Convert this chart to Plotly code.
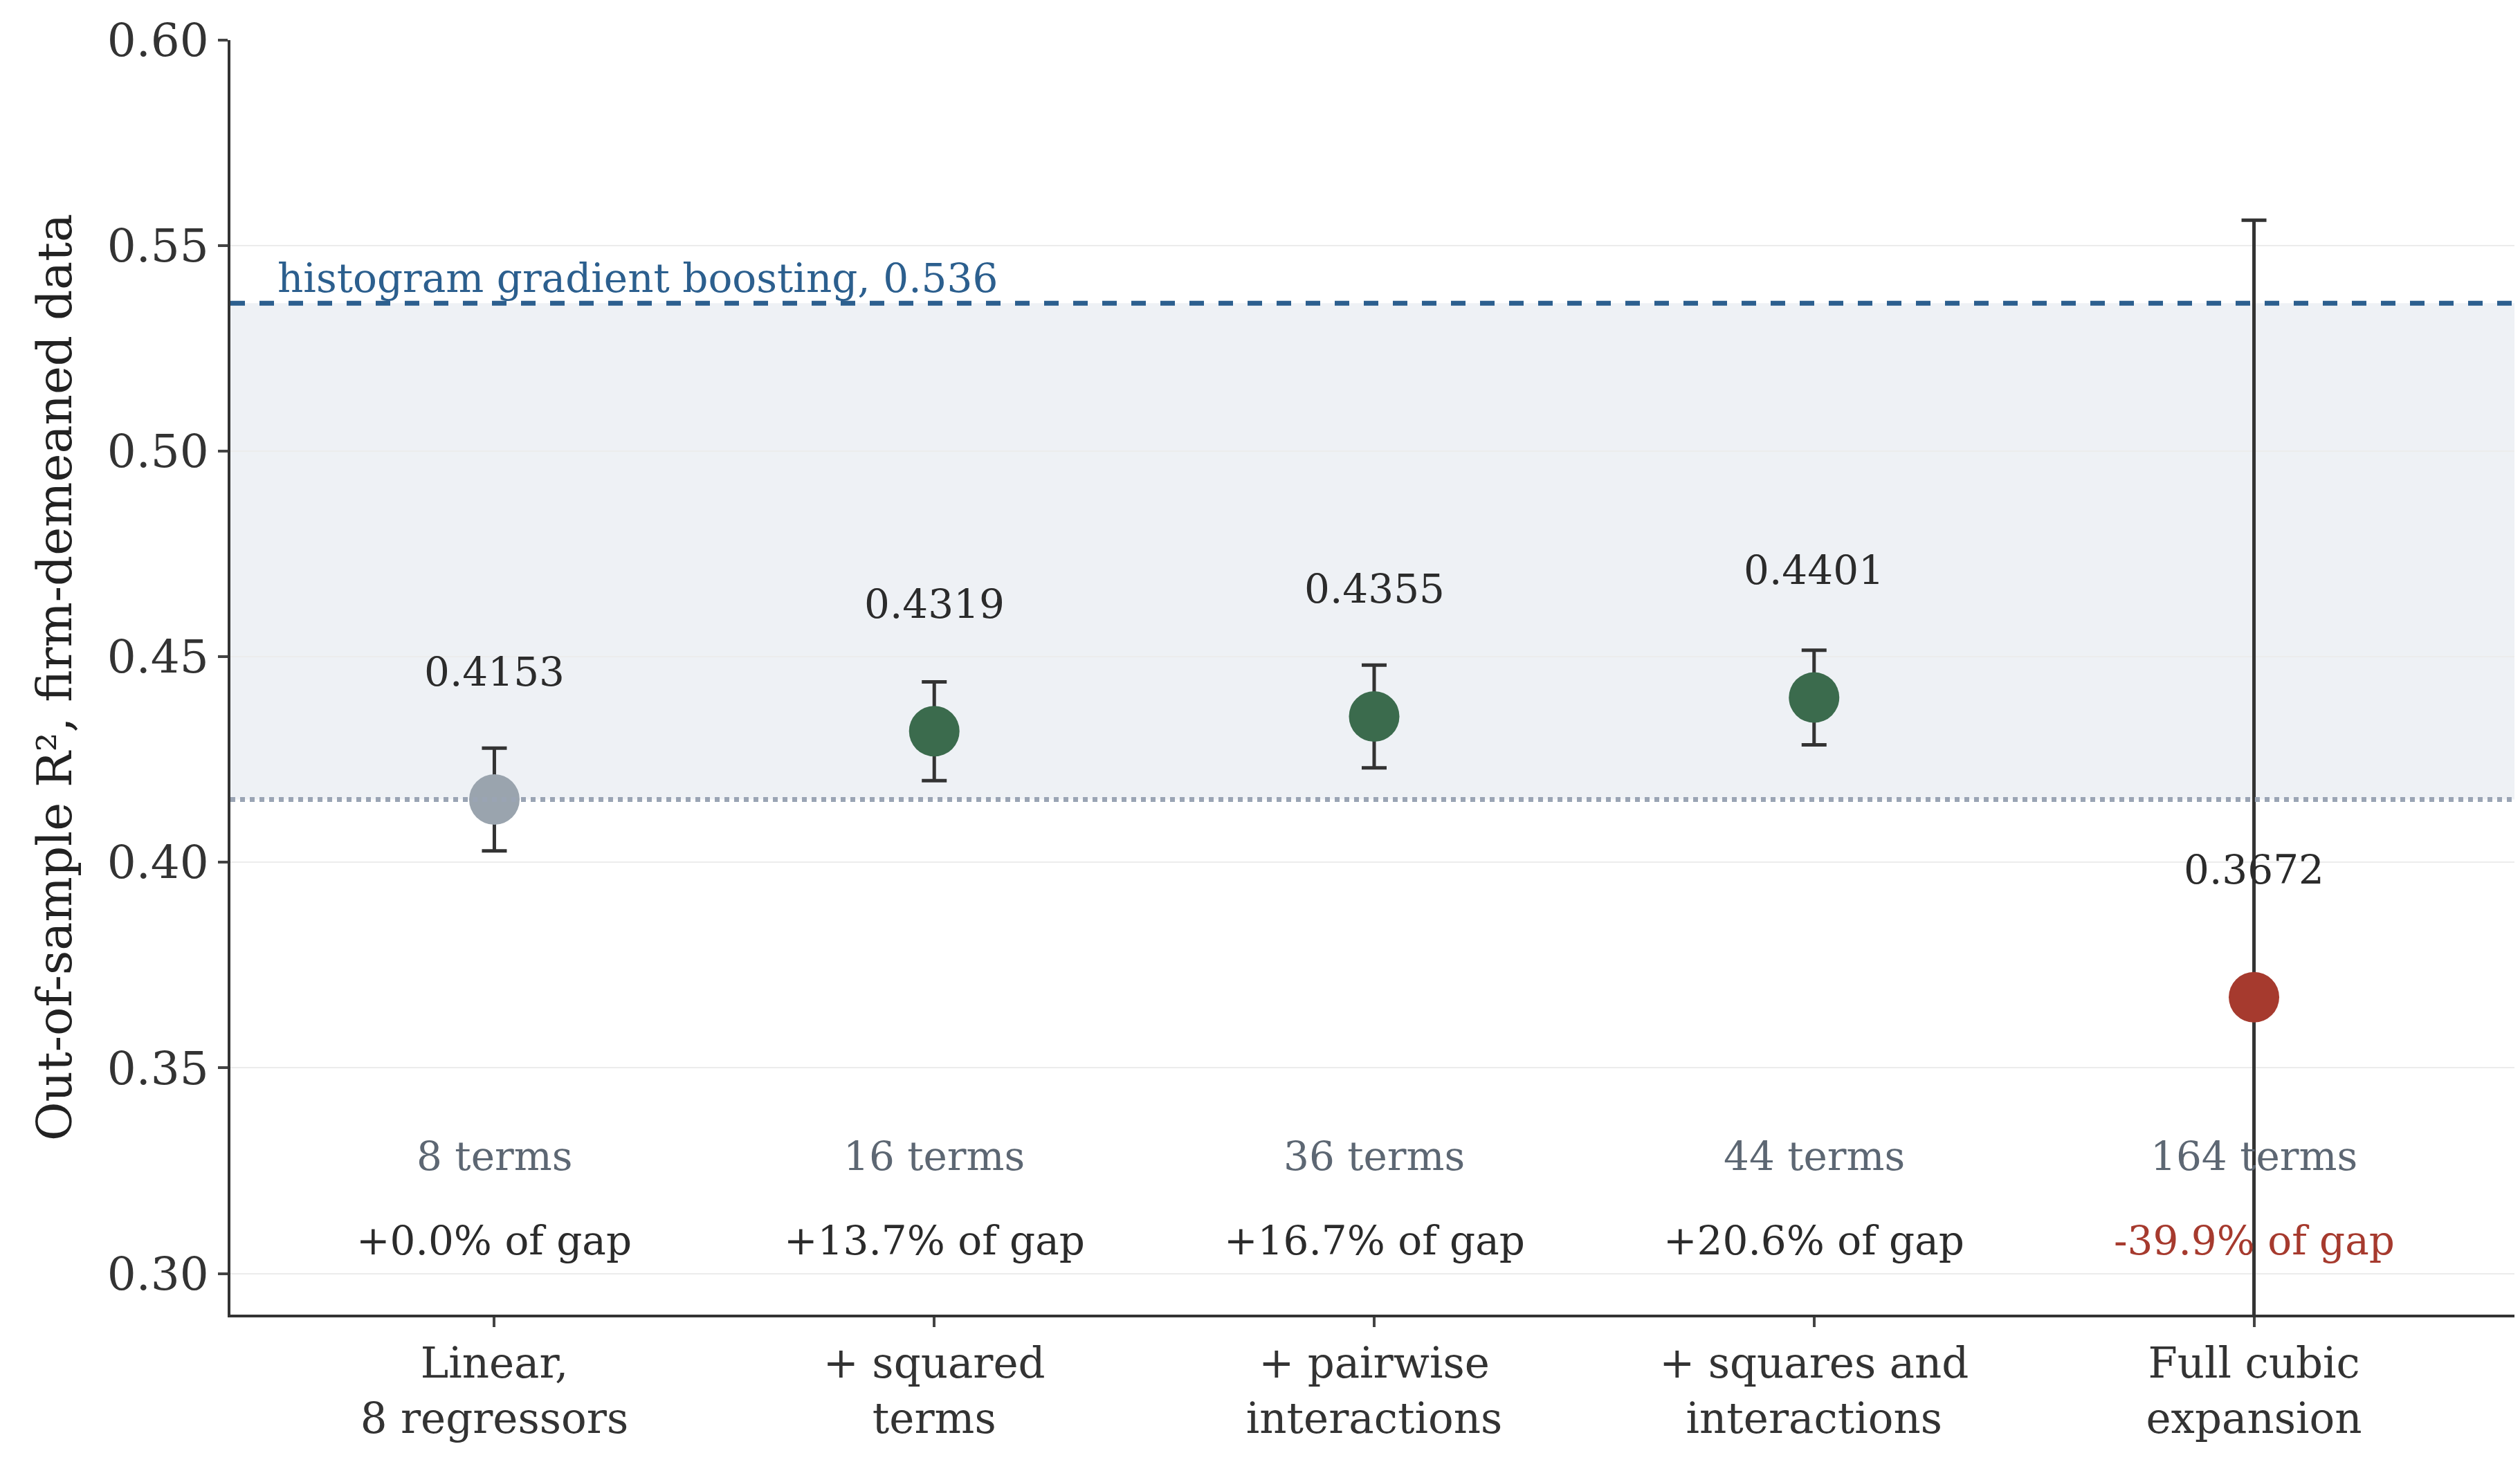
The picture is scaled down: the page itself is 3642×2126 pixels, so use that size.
import plotly.graph_objects as go

categories = ["Linear,<br>8 regressors", "+ squared<br>terms", "+ pairwise<br>interactions",
              "+ squares and<br>interactions", "Full cubic<br>expansion"]
r2 = [0.4153, 0.4319, 0.4355, 0.4401, 0.3672]
err = [0.0125, 0.012, 0.0125, 0.0115, 0.189]
terms = ["8 terms", "16 terms", "36 terms", "44 terms", "164 terms"]
gap = ["+0.0% of gap", "+13.7% of gap", "+16.7% of gap", "+20.6% of gap", "-39.9% of gap"]
colors = ["#9aa4ae", "#3b6b4d", "#3b6b4d", "#3b6b4d", "#a63a2e"]
gap_colors = ["#2b2b2b"] * 4 + ["#a63a2e"]
hgb = 0.536
baseline = r2[0]

F = "DejaVu Serif"
x = list(range(len(categories)))
fig = go.Figure()
fig.add_shape(type="rect", xref="paper", x0=0, x1=1, yref="y", y0=baseline, y1=hgb,
              fillcolor="#eef1f5", line_width=0, layer="below")
fig.add_shape(type="line", xref="paper", x0=0, x1=1, yref="y", y0=hgb, y1=hgb,
              line=dict(color="#2c5f8e", width=7, dash="dash"))
fig.add_shape(type="line", xref="paper", x0=0, x1=1, yref="y", y0=baseline, y1=baseline,
              line=dict(color="#9aa4b4", width=7, dash="dot"))
fig.add_trace(go.Scatter(x=x, y=r2, mode="markers",
    marker=dict(size=73, color=colors),
    error_y=dict(type="data", array=err, color="#333333", thickness=5, width=18)))
ann = []
for i in x:
    ann.append(dict(x=i, y=r2[i] + 0.031, text=f"{r2[i]:.4f}", showarrow=False,
                    font=dict(family=F, size=58, color="#2b2b2b")))
    ann.append(dict(x=i, y=0.3285, text=terms[i], showarrow=False,
                    font=dict(family=F, size=58, color="#5d6773")))
    ann.append(dict(x=i, y=0.308, text=gap[i], showarrow=False,
                    font=dict(family=F, size=58, color=gap_colors[i])))
ann.append(dict(xref="paper", x=0.02, y=hgb, yanchor="bottom", xanchor="left",
                text=f"histogram gradient boosting, {hgb}", showarrow=False,
                font=dict(family=F, size=58, color="#2c5f8e")))
fig.update_layout(
    width=3642, height=2126, margin=dict(l=325, r=11, t=50, b=234),
    plot_bgcolor="white", paper_bgcolor="white", showlegend=False, annotations=ann,
    font=dict(family=F, size=60, color="#333333"),
    xaxis=dict(tickmode="array", tickvals=x, ticktext=categories, range=[-0.6, 4.6],
               showline=True, linecolor="#333333", linewidth=4, ticks="outside",
               ticklen=14, tickwidth=4, showgrid=False, zeroline=False,
               tickfont=dict(family=F, size=61, color="#333333")),
    yaxis=dict(range=[0.29, 0.60], tickvals=[0.30, 0.35, 0.40, 0.45, 0.50, 0.55, 0.60],
               tickformat=".2f", showline=True, linecolor="#333333", linewidth=4,
               ticks="outside", ticklen=14, tickwidth=4, gridcolor="#ececec", gridwidth=2,
               zeroline=False, tickfont=dict(family=F, size=66, color="#333333"),
               title=dict(text="Out-of-sample R², firm-demeaned data",
                          font=dict(family=F, size=69, color="#222222"), standoff=30)),
)
fig.write_html("out.html")
